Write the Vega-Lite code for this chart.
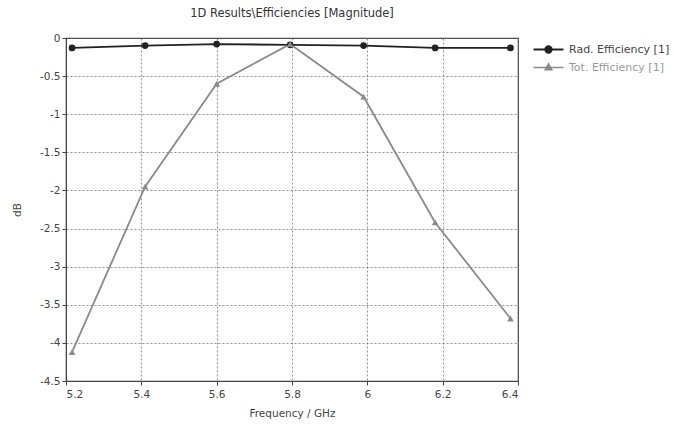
{
  "$schema": "https://vega.github.io/schema/vega-lite/v6.json",
  "autosize": "none",
  "width": 452,
  "height": 343,
  "padding": {"left": 66, "top": 38, "right": 155, "bottom": 44},
  "background": "white",
  "config": {
    "font": "DejaVu Sans",
    "view": {"stroke": "#444", "strokeWidth": 1.2},
    "axis": {
      "labelFont": "DejaVu Sans",
      "titleFont": "DejaVu Sans",
      "labelFontSize": 10.5,
      "titleFontSize": 10.5,
      "titleFontWeight": "normal",
      "labelColor": "#444",
      "titleColor": "#444",
      "domainColor": "#444",
      "tickColor": "#444",
      "tickSize": 4,
      "gridColor": "#666",
      "gridDash": [2, 2],
      "gridWidth": 0.9,
      "gridOpacity": 0.8
    }
  },
  "title": {
    "text": "1D Results\\Efficiencies [Magnitude]",
    "fontSize": 11.5,
    "fontWeight": "normal",
    "color": "#333",
    "font": "DejaVu Sans",
    "anchor": "middle",
    "frame": "group",
    "offset": 14
  },
  "data": {
    "values": [
      {"freq": 5.216, "db": -0.13, "series": "Rad. Efficiency [1]"},
      {"freq": 5.41, "db": -0.10, "series": "Rad. Efficiency [1]"},
      {"freq": 5.60, "db": -0.08, "series": "Rad. Efficiency [1]"},
      {"freq": 5.795, "db": -0.09, "series": "Rad. Efficiency [1]"},
      {"freq": 5.99, "db": -0.10, "series": "Rad. Efficiency [1]"},
      {"freq": 6.18, "db": -0.13, "series": "Rad. Efficiency [1]"},
      {"freq": 6.38, "db": -0.13, "series": "Rad. Efficiency [1]"},
      {"freq": 5.216, "db": -4.12, "series": "Tot. Efficiency [1]"},
      {"freq": 5.41, "db": -1.95, "series": "Tot. Efficiency [1]"},
      {"freq": 5.60, "db": -0.60, "series": "Tot. Efficiency [1]"},
      {"freq": 5.795, "db": -0.08, "series": "Tot. Efficiency [1]"},
      {"freq": 5.99, "db": -0.77, "series": "Tot. Efficiency [1]"},
      {"freq": 6.18, "db": -2.42, "series": "Tot. Efficiency [1]"},
      {"freq": 6.38, "db": -3.68, "series": "Tot. Efficiency [1]"}
    ]
  },
  "encoding": {
    "x": {
      "field": "freq",
      "type": "quantitative",
      "scale": {"domain": [5.2, 6.4], "nice": false, "zero": false},
      "axis": {
        "title": "Frequency / GHz",
        "values": [5.2, 5.4, 5.6, 5.8, 6.0, 6.2, 6.4],
        "labelExpr": "'' + datum.value",
        "titlePadding": 9,
        "labelPadding": 4
      }
    },
    "y": {
      "field": "db",
      "type": "quantitative",
      "scale": {"domain": [-4.5, 0], "nice": false},
      "axis": {
        "title": "dB",
        "values": [0, -0.5, -1, -1.5, -2, -2.5, -3, -3.5, -4, -4.5],
        "labelExpr": "'' + datum.value",
        "titlePadding": 17
      }
    },
    "color": {
      "field": "series",
      "type": "nominal",
      "scale": {"domain": ["Rad. Efficiency [1]", "Tot. Efficiency [1]"], "range": ["#222222", "#8a8a8a"]},
      "legend": {
        "title": null,
        "orient": "none",
        "legendX": 474,
        "legendY": 3,
        "symbolSize": 225,
        "symbolStrokeWidth": 1.5,
        "labelFontSize": 11,
        "labelFont": "DejaVu Sans",
        "rowPadding": 2,
        "labelOffset": 12,
        "encode": {
          "symbols": {
            "update": {
              "shape": {"signal": "datum.value === 'Rad. Efficiency [1]' ? 'M-2,0H2M-0.42,0A0.42,0.42 0 1,0 0.42,0A0.42,0.42 0 1,0 -0.42,0Z' : 'M-2,0H2M-0.45,0.3L0,-0.5L0.45,0.3Z'"},
              "fill": {"signal": "datum.value === 'Rad. Efficiency [1]' ? '#222222' : '#8a8a8a'"},
              "stroke": {"signal": "datum.value === 'Rad. Efficiency [1]' ? '#222222' : '#8a8a8a'"},
              "opacity": {"value": 1}
            }
          },
          "labels": {
            "update": {
              "fill": {"signal": "datum.value === 'Rad. Efficiency [1]' ? '#444' : '#999'"}
            }
          }
        }
      }
    }
  },
  "layer": [
    {
      "mark": {"type": "line", "strokeWidth": 1.8},
      "encoding": {
        "strokeWidth": {
          "field": "series",
          "type": "nominal",
          "scale": {"domain": ["Rad. Efficiency [1]", "Tot. Efficiency [1]"], "range": [2, 1.4]},
          "legend": null
        }
      }
    },
    {
      "transform": [{"filter": "datum.series === 'Rad. Efficiency [1]'"}],
      "mark": {"type": "point", "filled": true, "size": 45, "opacity": 1, "shape": "circle"}
    },
    {
      "transform": [{"filter": "datum.series === 'Tot. Efficiency [1]'"}],
      "mark": {"type": "point", "filled": true, "size": 45, "opacity": 1, "shape": "triangle-up"}
    }
  ]
}
